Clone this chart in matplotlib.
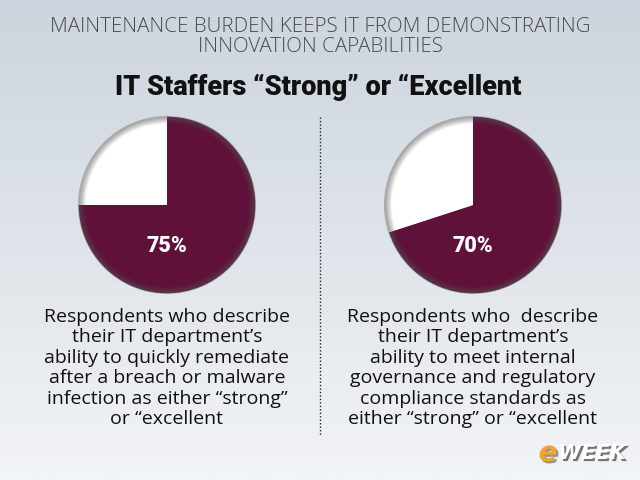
import matplotlib
matplotlib.use("Agg")
import matplotlib.pyplot as plt
import numpy as np
from matplotlib import patheffects as pe
from matplotlib.colors import LinearSegmentedColormap

header = "MAINTENANCE BURDEN KEEPS IT FROM DEMONSTRATING\nINNOVATION CAPABILITIES"
title = "IT Staffers \u201cStrong\u201d or \u201cExcellent"
values = [75, 70]
labels = ["75%", "70%"]
captions = [
    "Respondents who describe\ntheir IT department\u2019s\nability to quickly remediate\nafter a breach or malware\ninfection as either \u201cstrong\u201d\nor \u201cexcellent",
    "Respondents who  describe\ntheir IT department\u2019s\nability to meet internal\ngovernance and regulatory\ncompliance standards as\neither \u201cstrong\u201d or \u201cexcellent",
]
maroon = "#5f1139"

W, H = 640, 480
fig = plt.figure(figsize=(6.4, 4.8), dpi=100)
bg = fig.add_axes([0, 0, 1, 1])
bg.set_xlim(0, W); bg.set_ylim(H, 0); bg.axis("off")
grad = np.linspace(0, 1, 256).reshape(-1, 1)
cmap = LinearSegmentedColormap.from_list("g", ["#ccd4dd", "#dfe4ea", "#f2f4f6"])
bg.imshow(grad, extent=[0, W, H, 0], aspect="auto", cmap=cmap, zorder=0)

def fx(x):
    return x / W

def fy(y):
    return 1 - y / H

fig.text(fx(320), fy(36.5), header, ha="center", va="center", fontsize=14.8, color="#4a4a4a",
         family="Open Sans", fontweight="light", linespacing=1.0)
fig.text(fx(318), fy(87), title, ha="center", va="center", fontsize=19.5, color="#111111",
         family="Roboto", fontweight="black")

# dotted divider
bg.plot([320, 320], [117, 436], linestyle=(0, (1, 1.5)), color="#222222", lw=1.0)

centers = [(167, 205), (473, 205)]
R = 90
for (cx, cy), v, lab, cap in zip(centers, values, labels, captions):
    ax = fig.add_axes([(cx - R) / W, 1 - (cy + R) / H, 2 * R / W, 2 * R / H])
    ax.pie([v, 100 - v], colors=[maroon, "#ffffff"], startangle=90,
           counterclock=False, wedgeprops=dict(linewidth=0))
    # soft inner shadow along the rim
    for i, r in enumerate(np.linspace(1.0, 0.93, 8)):
        ax.add_patch(plt.Circle((0, 0), r, fill=False, ec="#555555", lw=1.2,
                                alpha=0.35 * (1 - i / 8)))
    ax.set_xlim(-1.02, 1.02); ax.set_ylim(-1.02, 1.02)
    ax.set_aspect("equal"); ax.axis("off")
    fig.text(fx(cx), fy(246), lab, ha="center", va="center", fontsize=15.5, color="white",
             family="Roboto", fontweight="black")
    fig.text(fx(cx), fy(368), cap, ha="center", va="center", fontsize=14, color="#111111",
             family="Open Sans", linespacing=1.18)

# logo
fig.text(fx(548), fy(453), "e", ha="center", va="center", fontsize=20, color="#f0a530",
         family="DejaVu Sans", fontweight="bold", style="italic",
         path_effects=[pe.withSimplePatchShadow(offset=(1.5, -1.5), shadow_rgbFace="#555555", alpha=0.6)])
fig.text(fx(592), fy(453), "WEEK", ha="center", va="center", fontsize=15, color="white",
         family="DejaVu Sans", fontweight="bold", style="italic",
         path_effects=[pe.withSimplePatchShadow(offset=(1.5, -1.5), shadow_rgbFace="#555555", alpha=0.8)])

fig.savefig("out.png", dpi=100)
